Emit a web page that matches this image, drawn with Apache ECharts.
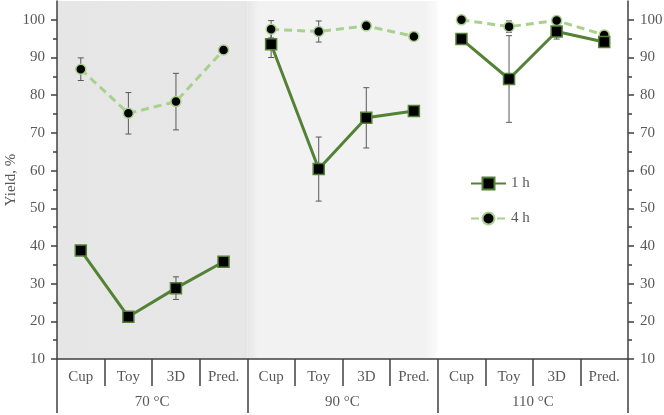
<!DOCTYPE html>
<html>
<head>
<meta charset="utf-8">
<script src="https://cdn.jsdelivr.net/npm/echarts@6/dist/echarts.min.js"></script>
<style>
html,body{margin:0;padding:0;background:#fff;}
#chart{width:664px;height:415px;}
</style>
</head>
<body>
<div id="chart"></div>
<script>
// ---- data ----
var categories = ['Cup','Toy','3D','Pred.','Cup','Toy','3D','Pred.','Cup','Toy','3D','Pred.'];
var groups = ['70 °C','90 °C','110 °C'];
var seriesNames = ['1 h','4 h'];
var yield1h = [38.8, 21.2, 28.8, 35.8, 93.5, 60.4, 74.0, 75.8, 94.9, 84.3, 96.9, 94.1];
var err1h   = [0, 1.2, 3, 0, 3.5, 8.5, 8, 0, 0, 11.5, 2, 0];
var yield4h = [86.9, 75.2, 78.3, 92.0, 97.5, 96.9, 98.4, 95.6, 100, 98.2, 99.8, 96.0];
var err4h   = [3, 5.5, 7.5, 0, 2.3, 2.8, 0, 0, 0, 1.5, 0, 0];
var yTicks = [10,20,30,40,50,60,70,80,90,100];
var groupSize = 4;

var FONT = 'Liberation Serif';
var TXT = '#595959';
var AX = '#404040';
var FS = 15;

function errData(vals, errs){
  var out = [];
  for (var i=0;i<vals.length;i++){ if (errs[i] > 0) out.push([i, vals[i], errs[i]]); }
  return out;
}
function groupSlice(vals, g){
  return vals.map(function(v, i){ return Math.floor(i/groupSize) === g ? v : null; });
}

function errRender(params, api){
  var x = api.value(0), y = api.value(1), e = api.value(2);
  var hi = api.coord([x, y + e]);
  var lo = api.coord([x, y - e]);
  var cw = 3;
  var st = {stroke:'#595959', lineWidth:1};
  return {type:'group', children:[
    {type:'line', shape:{x1:hi[0],y1:hi[1],x2:lo[0],y2:lo[1]}, style:st},
    {type:'line', shape:{x1:hi[0]-cw,y1:hi[1],x2:hi[0]+cw,y2:hi[1]}, style:st},
    {type:'line', shape:{x1:lo[0]-cw,y1:lo[1],x2:lo[0]+cw,y2:lo[1]}, style:st}
  ]};
}

function bgRender(params, api){
  var cs = params.coordSys;
  var bw = api.size([1,0])[0];
  var a = api.coord([api.value(0), 10])[0] - bw/2;
  var b = api.coord([api.value(1), 10])[0] + bw/2;
  var kind = params.dataIndex;
  var fill;
  if (kind === 0){
    fill = new echarts.graphic.LinearGradient(0,0,1,0,[
      {offset:0,color:'#e6e6e6'},{offset:0.96,color:'#e7e7e7'},{offset:1,color:'#e4e4e4'}]);
  } else {
    fill = new echarts.graphic.LinearGradient(0,0,1,0,[
      {offset:0,color:'#e6e6e6'},{offset:0.06,color:'#f2f2f2'},
      {offset:0.93,color:'#f2f2f2'},{offset:1,color:'#fbfbfb'}]);
  }
  return {type:'rect', shape:{x:a, y:cs.y, width:b-a, height:cs.height}, style:{fill:fill}, silent:true};
}

var yAxisBase = function(pos){
  return {
    type:'value', position:pos, min:10, max:105, interval:10,
    axisLine:{show:true, lineStyle:{color:AX, width:1.5}},
    axisTick:{show:true, inside:false, length:6, lineStyle:{color:AX, width:1.5}, customValues:yTicks},
    minorTick:{show:true, splitNumber:2, length:4, lineStyle:{color:AX, width:1.5}},
    axisLabel:{color:TXT, fontFamily:FONT, fontSize:FS, margin:12, customValues:yTicks},
    splitLine:{show:false}
  };
};

var yl = yAxisBase('left');
yl.name = 'Yield, %';
yl.nameLocation = 'middle';
yl.nameGap = 38;
yl.nameMoveOverlap = false;
yl.nameTextStyle = {color:TXT, fontFamily:FONT, fontSize:FS};
var yr = yAxisBase('right');

var series = [
  {type:'custom', name:'bg', renderItem:bgRender, xAxisIndex:0, yAxisIndex:0, z:0, silent:true,
   data:[[0,3],[4,7]], encode:{x:[0,1]}},
  {type:'custom', name:'err4', renderItem:errRender, xAxisIndex:0, yAxisIndex:0, z:1, silent:true,
   data:errData(yield4h, err4h), encode:{x:0, y:1}},
  {type:'custom', name:'err1', renderItem:errRender, xAxisIndex:0, yAxisIndex:0, z:1, silent:true,
   data:errData(yield1h, err1h), encode:{x:0, y:1}}
];
for (var g=0; g<groups.length; g++){
  series.push({type:'line', name:seriesNames[1], data:groupSlice(yield4h, g), z:3,
     symbol:'circle', symbolSize:10, connectNulls:false,
     itemStyle:{color:'#000', borderColor:'#a9d18e', borderWidth:1.5},
     lineStyle:{color:'#a9d18e', width:3, type:[8,5]}});
  series.push({type:'line', name:seriesNames[0], data:groupSlice(yield1h, g), z:4,
     symbol:'rect', symbolSize:11, connectNulls:false,
     itemStyle:{color:'#000', borderColor:'#548235', borderWidth:1.5},
     lineStyle:{color:'#548235', width:3}});
}

var option = {
  animation:false,
  backgroundColor:'#fff',
  grid:{left:57, right:36, top:1, bottom:56, containLabel:false, outerBoundsMode:'none'},
  legend:{
    data:seriesNames, orient:'vertical', left:465, top:171, itemGap:20,
    itemWidth:35, itemHeight:15,
    textStyle:{color:TXT, fontFamily:FONT, fontSize:FS}
  },
  xAxis:[
    {type:'category', data:categories, boundaryGap:true, position:'bottom',
     axisLine:{show:true, lineStyle:{color:AX, width:1.5}},
     axisTick:{show:true, length:27, lineStyle:{color:AX, width:1.5}, alignWithLabel:false},
     axisLabel:{color:TXT, fontFamily:FONT, fontSize:FS, margin:11, interval:0}},
    {type:'category', data:groups, boundaryGap:true, position:'bottom',
     axisLine:{show:false},
     axisTick:{show:true, length:54, lineStyle:{color:AX, width:1.5}},
     axisLabel:{color:TXT, fontFamily:FONT, fontSize:FS, margin:36, interval:0}}
  ],
  yAxis:[yl, yr],
  series:series
};
var chart = echarts.init(document.getElementById('chart'), null, {renderer:'canvas'});
chart.setOption(option);
</script>
</body>
</html>
